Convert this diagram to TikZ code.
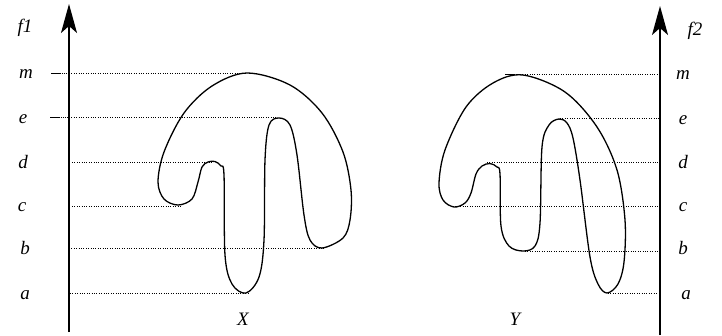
\documentclass[tikz,border=0pt]{standalone}
\usepackage{fontspec}
\setmainfont{Liberation Serif}
\usetikzlibrary{arrows.meta}
\begin{document}
\begin{tikzpicture}[x=1pt,y=-1pt,
 axis/.style={line width=1.6pt,-{Stealth[length=29pt,width=16pt,inset=7pt]}},
 guide/.style={line width=1pt,dash pattern=on 1pt off 1.4pt},
 stub/.style={line width=1pt,dash pattern=on 1.6pt off 0.5pt},
 blob/.style={line width=1.3pt},
 lab/.style={font=\fontsize{19}{19}\selectfont\itshape,anchor=base,inner sep=0pt}]
\useasboundingbox (0,0) rectangle (722,335);
% axes
\coordinate (L0) at (69,332); \coordinate (L1) at (69,4);
\coordinate (R0) at (660,335); \coordinate (R1) at (660,6);
\draw[axis] (L0) -- (L1);
\draw[axis] (R0) -- (R1);
% left labels
\node[lab] (f1) at (25,32) {f1};
\node[lab] (lm) at (26,78) {m};
\node[lab] (le) at (23,123) {e};
\node[lab] (ld) at (23,168) {d};
\node[lab] (lc) at (22,211) {c};
\node[lab] (lb) at (25,254) {b};
\node[lab] (la) at (25,299) {a};
\node[lab] (X) at (243,325) {X};
% right labels
\node[lab] (f2) at (695,35) {f2};
\node[lab] (rm) at (683,79) {m};
\node[lab] (re) at (683,124) {e};
\node[lab] (rd) at (683,168) {d};
\node[lab] (rc) at (683,211) {c};
\node[lab] (rb) at (683,254) {b};
\node[lab] (ra) at (686,299) {a};
\node[lab] (Y) at (515,325) {Y};
% left guides
\draw[stub] (51,73) -- (69,73);
\draw[guide] (69,73) -- (245,73);
\draw[stub] (50,117.5) -- (69,117.5);
\draw[guide] (69,117.5) -- (276,117.5);
\draw[guide] (72,162) -- (213,162);
\draw[guide] (72,206) -- (182,206);
\draw[guide] (69,248.5) -- (325,248.5);
\draw[guide] (70,293.5) -- (248,293.5);
% right guides
\draw[stub] (505,74) -- (520,74);
\draw[guide] (520,74) -- (657,74);
\draw[guide] (560,118) -- (660,118);
\draw[guide] (487,162) -- (660,162);
\draw[guide] (453,206.5) -- (660,206.5);
\draw[guide] (525,251) -- (660,251);
\draw[guide] (608,293.5) -- (658,293.5);
% shape X
\draw[blob] plot[smooth cycle, tension=0.55] coordinates {
(247,73) (290,85) (322,113) (343,152) (351,190) (350,220) (343,238) (322,248)
(310,240) (304,215) (297,155) (290,125) (279,118) (269,125) (265,160) (264,240)
(259,277) (246,293) (232,284) (225,255) (224,175) (221,166) (215,161.5) (208,162)
(202,167) (198,182) (192,199) (178,205) (164,199) (158,182) (164,152) (184,113) (212,86)};
% shape Y
\draw[blob] plot[smooth cycle, tension=0.55] coordinates {
(523,75) (565,92) (597,127) (617,170) (625,220) (624,262) (618,284) (607,293)
(598,284) (590,257) (580,180) (573,138) (567,123) (559,119) (549,125) (542,147)
(540,223) (535,246) (523,251) (509,246) (501,226) (500,174) (497,167) (490,163.5)
(482,166) (476,174) (471,193) (465,203) (454,207) (443,200) (439,183) (445,150)
(466,107) (493,83)};
\end{tikzpicture}
\end{document}
